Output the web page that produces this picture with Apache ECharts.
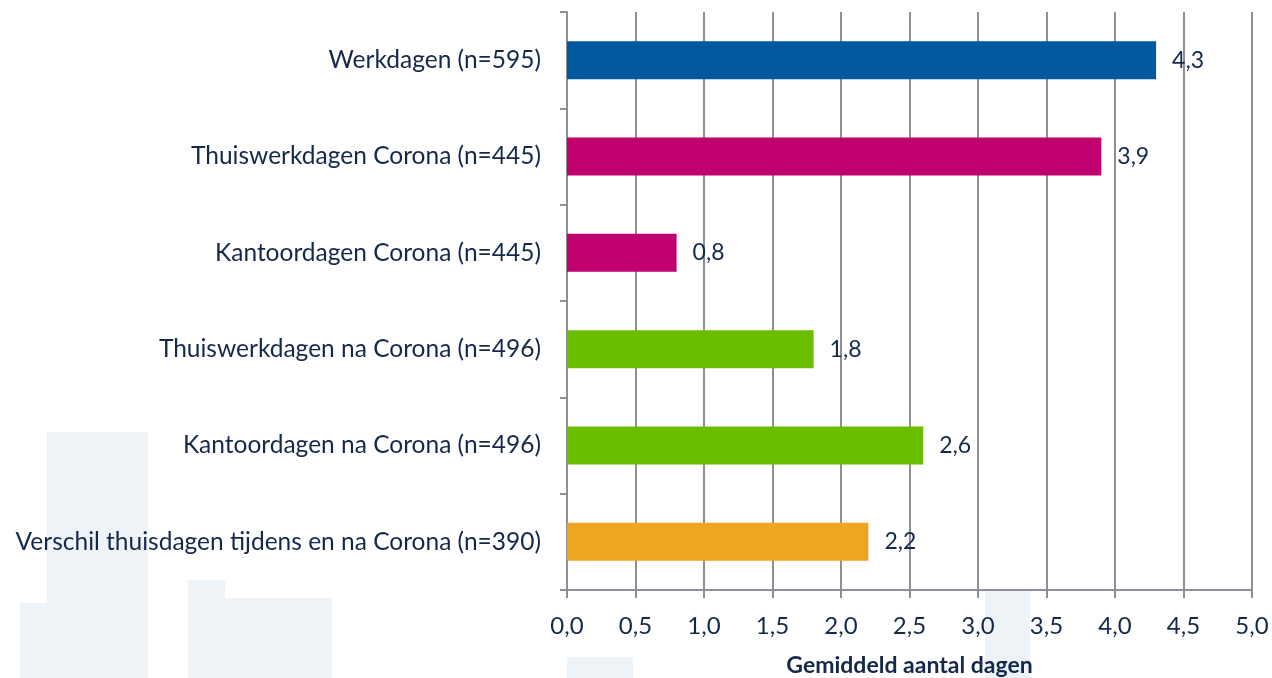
<!DOCTYPE html>
<html>
<head>
<meta charset="utf-8">
<script src="https://cdn.jsdelivr.net/npm/echarts@6/dist/echarts.min.js"></script>
<style>
  html, body { margin: 0; padding: 0; background: #fff; }
  #grafiek { width: 1272px; height: 678px; }
</style>
</head>
<body>
<div id="grafiek"></div>
<script>
// categorieen en gemiddelden
var categorieen = [
  "Werkdagen (n=595)",
  "Thuiswerkdagen Corona (n=445)",
  "Kantoordagen Corona (n=445)",
  "Thuiswerkdagen na Corona (n=496)",
  "Kantoordagen na Corona (n=496)",
  "Verschil thuisdagen tijdens en na Corona (n=390)"
];
var waarden = [4.3, 3.9, 0.8, 1.8, 2.6, 2.2];
var kleuren = ["#00599f", "#c0006f", "#c0006f", "#6bbd00", "#6bbd00", "#eda522"];

var tekstKleur = "#14284b";
var lijnKleur = "#8e8e99";
var vlak = "#eef3f8";

var myChart = echarts.init(document.getElementById("grafiek"));

var option = {
  textStyle: { fontFamily: "Lato" },
  // vage achtergrond vlakken (watermerk)
  graphic: [
    { type: "rect", z: -10, shape: { x: 47, y: 432, width: 101, height: 246 }, style: { fill: vlak } },
    { type: "rect", z: -10, shape: { x: 20, y: 603, width: 27, height: 75 }, style: { fill: vlak } },
    { type: "rect", z: -10, shape: { x: 188, y: 580, width: 37, height: 98 }, style: { fill: vlak } },
    { type: "rect", z: -10, shape: { x: 225, y: 598, width: 107, height: 80 }, style: { fill: vlak } },
    { type: "rect", z: -10, shape: { x: 567, y: 657, width: 66, height: 21 }, style: { fill: vlak } },
    { type: "rect", z: -10, shape: { x: 985, y: 590, width: 45, height: 88 }, style: { fill: vlak } }
  ],
  grid: {
    left: 567,
    right: 20,
    top: 12,
    bottom: 88,
    outerBoundsMode: "none",
    containLabel: false
  },
  xAxis: {
    type: "value",
    min: 0,
    max: 5,
    interval: 0.5,
    name: "Gemiddeld aantal dagen",
    nameLocation: "middle",
    nameGap: 64,
    nameTextStyle: { color: tekstKleur, fontSize: 23, fontWeight: "bold" },
    axisLine: { show: true, lineStyle: { color: lijnKleur, width: 2 } },
    axisTick: { show: true, length: 8, lineStyle: { color: lijnKleur, width: 2 } },
    axisLabel: {
      color: tekstKleur,
      fontSize: 24,
      margin: 24,
      formatter: function (v) { return v.toFixed(1).replace(".", ","); }
    },
    splitLine: { show: true, lineStyle: { color: lijnKleur, width: 2 } }
  },
  yAxis: {
    type: "category",
    inverse: true,
    data: categorieen,
    axisLine: { show: true, lineStyle: { color: lijnKleur, width: 2 } },
    axisTick: { show: true, length: 7, lineStyle: { color: lijnKleur, width: 2 } },
    axisLabel: { color: tekstKleur, fontSize: 24.5, margin: 26 }
  },
  series: [
    {
      name: "gemiddeld",
      type: "bar",
      barWidth: 38,
      data: waarden.map(function (v, i) {
        return { value: v, itemStyle: { color: kleuren[i] } };
      }),
      label: {
        show: true,
        position: "right",
        distance: 16,
        color: tekstKleur,
        fontSize: 23,
        formatter: function (p) { return p.value.toFixed(1).replace(".", ","); }
      }
    }
  ]
};

myChart.setOption(option);
</script>
</body>
</html>
